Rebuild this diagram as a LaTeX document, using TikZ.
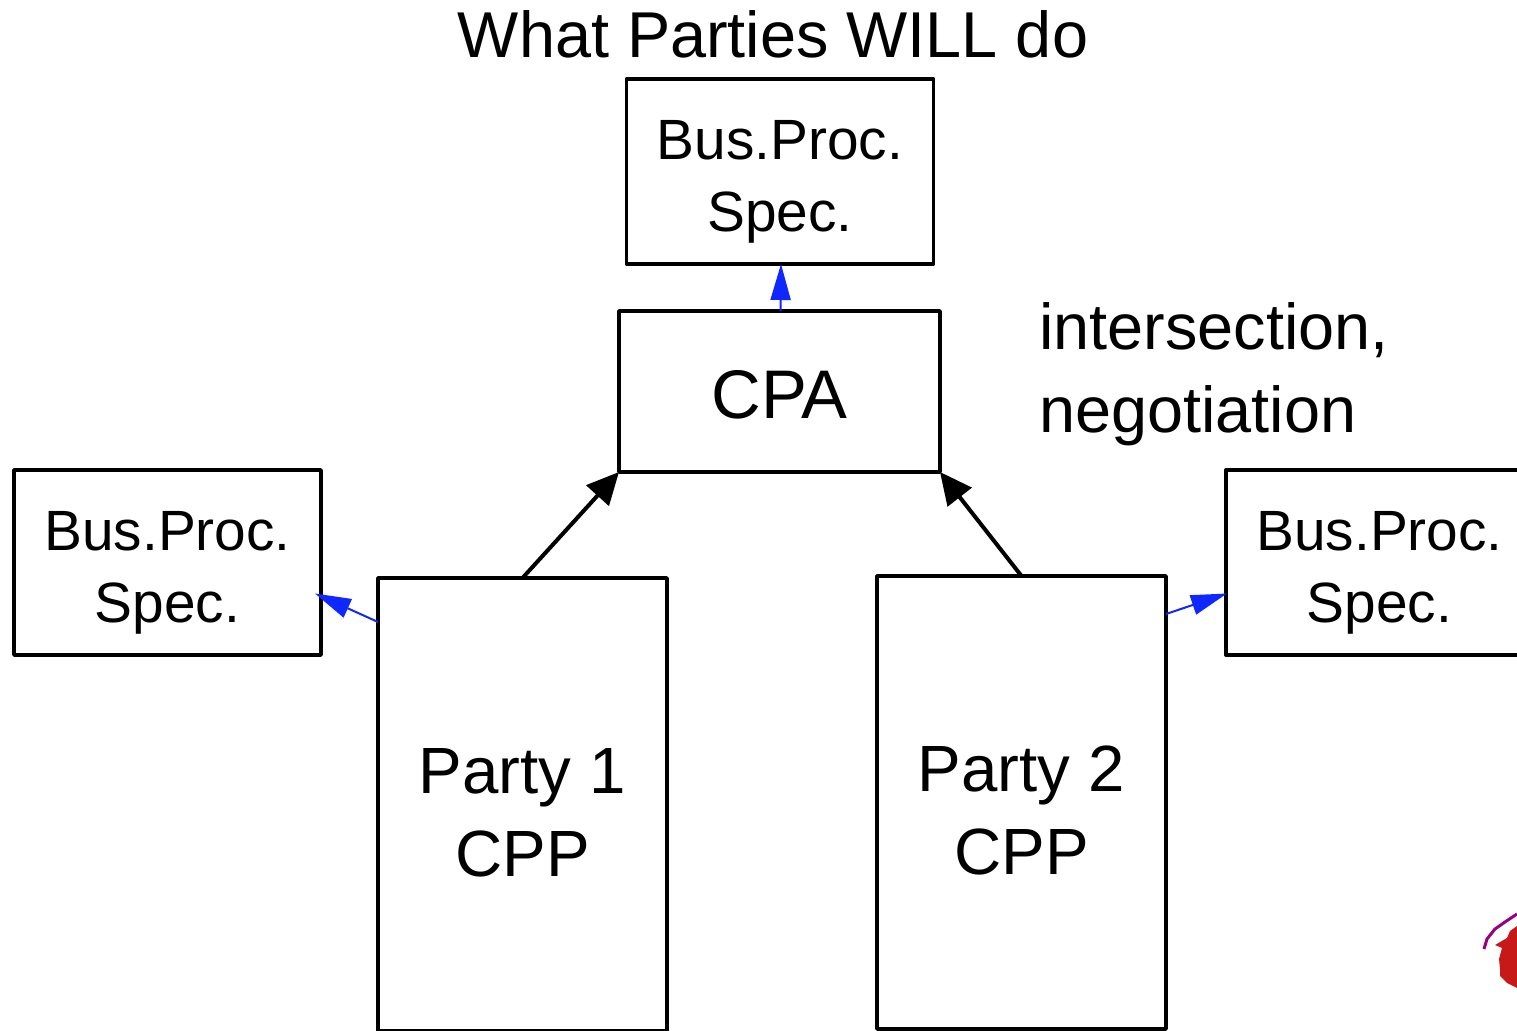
\documentclass[tikz,border=0pt]{standalone}
\usepackage{fontspec}
\setmainfont{Liberation Sans}
\usetikzlibrary{arrows.meta}

\definecolor{specblue}{RGB}{15,40,255}
\definecolor{blotred}{RGB}{200,25,25}
\definecolor{blotpurple}{RGB}{150,0,130}

\tikzset{
    plainbox/.style={draw=black,line width=1.7pt,line join=round,outer sep=0pt,inner sep=0pt,align=center},
    specbox/.style={plainbox,minimum width=153.5pt,minimum height=92.5pt,font=\fontsize{28.4}{36}\selectfont},
    partybox/.style={plainbox,minimum width=144.5pt,minimum height=226.5pt,font=\fontsize{32.7}{41.5}\selectfont},
    bigtext/.style={inner sep=0pt,align=left,font=\fontsize{32.4}{41.5}\selectfont},
    mainarrow/.style={-{Triangle[length=16pt,width=15pt]},line width=2pt,black},
    specarrow/.style={-{Triangle[length=18pt,width=10pt]},line width=1pt,specblue},
}

\begin{document}
\begin{tikzpicture}[x=0.5pt,y=-0.5pt]
    \useasboundingbox (0,0) rectangle (1517,1031);

% Spec boxes
    \def\mkSpec#1#2#3{
        \node[specbox] (#1) at (#2,#3) {\rule{0pt}{29.5pt}Bus.Proc.\\Spec.};
    }
    \mkSpec{topspec}{780}{171.5}
    \mkSpec{leftspec}{167.5}{562.5}
    \mkSpec{rightspec}{1379.5}{562.5}

% Agreement and parties
    \node[partybox,minimum width=160.5pt,minimum height=80.5pt,font=\fontsize{34.4}{41.5}\selectfont] (cpa) at (779.5,391.5) {\rule{0pt}{27pt}CPA};
    \node[partybox] (partyone) at (522.5,804.5) {\rule{0pt}{31pt}Party 1\\CPP};
    \node[partybox] (partytwo) at (1021.5,802.5) {\rule{0pt}{31pt}Party 2\\CPP};

% Texts
    \node[bigtext] (title) at (773,34) {What Parties WILL do};
    \node[bigtext,anchor=west] (note) at (1039,374) {intersection,\\negotiation};

% Arrows
    \draw[mainarrow] (partyone.north) -- (cpa.south west);
    \draw[mainarrow] (partytwo.north) -- (cpa.south east);
    \draw[specarrow] ([xshift=0.5pt]cpa.north) -- ([xshift=0.5pt]topspec.south);
    \draw[specarrow] ([yshift=-22pt]partyone.north west) -- ([xshift=-3pt,yshift=-15.5pt]leftspec.east);
    \draw[specarrow] ([yshift=-19pt]partytwo.north east) -- ([xshift=0.5pt,yshift=-15.5pt]rightspec.west);

% Blot in the corner
    \fill[blotred] (1517,926) -- (1510,931) -- (1507,938) -- (1495,945) -- (1502,948) -- (1499,959)
        -- (1500,969) -- (1500,976) -- (1507,983) -- (1517,988) -- cycle;
    \draw[blotpurple,line width=1.5pt] (1517,914) -- (1505,922) -- (1495,929) -- (1487,939) -- (1484,949);

\end{tikzpicture}
\end{document}
